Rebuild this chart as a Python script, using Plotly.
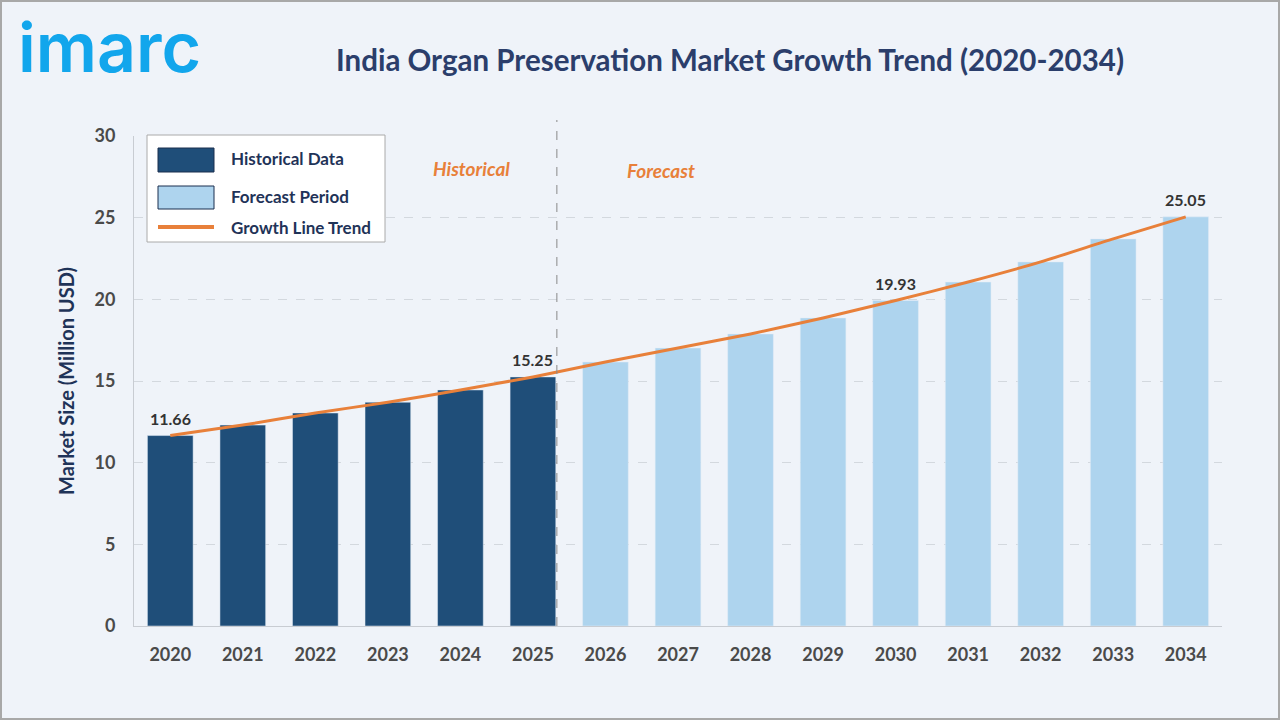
import plotly.graph_objects as go

# data
years = [str(y) for y in range(2020, 2035)]
hist_years = years[:6]
hist_values = [11.66, 12.30, 13.04, 13.70, 14.45, 15.25]
fcst_years = years[6:]
fcst_values = [16.16, 17.02, 17.88, 18.86, 19.93, 21.06, 22.29, 23.70, 25.05]
label_years = ["2020", "2025", "2030", "2034"]

all_values = hist_values + fcst_values
label_values = [all_values[years.index(y)] for y in label_years]

NAVY = "#1F4E79"
LIGHT = "#AED4EE"
ORANGE = "#E8803A"
FONT = "Lato"

# pixel -> paper helpers (plot area 134..1222 x, 136..626 y)
L, R, T, B = 134, 1222, 136, 626
def px(x):
    return (x - L) / (R - L)
def py(y):
    return (B - y) / (B - T)

fig = go.Figure()

fig.add_trace(go.Bar(x=hist_years, y=hist_values, marker_color=NAVY,
                     width=0.63, name="Historical Data"))
fig.add_trace(go.Bar(x=fcst_years, y=fcst_values, marker_color=LIGHT,
                     width=0.63, name="Forecast Period"))
fig.add_trace(go.Scatter(x=years, y=all_values, mode="lines",
                         line=dict(color=ORANGE, width=3, shape="spline", smoothing=0.6),
                         name="Growth Line Trend"))

shapes = []
# outer frame
shapes.append(dict(type="rect", xref="paper", yref="paper",
                   x0=px(1), x1=px(1279), y0=py(719), y1=py(1),
                   line=dict(color="#A8A8A8", width=2), fillcolor="rgba(0,0,0,0)", layer="below"))
# forecast divider
shapes.append(dict(type="line", xref="x", yref="paper", x0=5.33, x1=5.33,
                   y0=0, y1=py(120), line=dict(color="#888888", width=1, dash="dash")))
# manual legend
shapes.append(dict(type="rect", xref="paper", yref="paper",
                   x0=px(147), x1=px(385), y0=py(242), y1=py(135),
                   line=dict(color="#AAAAAA", width=1), fillcolor="white"))
shapes.append(dict(type="rect", xref="paper", yref="paper",
                   x0=px(158), x1=px(214), y0=py(172), y1=py(148),
                   line=dict(color="#1A2F4F", width=1), fillcolor=NAVY))
shapes.append(dict(type="rect", xref="paper", yref="paper",
                   x0=px(158), x1=px(214), y0=py(209), y1=py(186),
                   line=dict(color="#1A2F4F", width=1), fillcolor=LIGHT))
shapes.append(dict(type="line", xref="paper", yref="paper",
                   x0=px(158), x1=px(214), y0=py(227), y1=py(227),
                   line=dict(color=ORANGE, width=4)))

annotations = []
for yr, v in zip(label_years, label_values):
    annotations.append(dict(x=years.index(yr), y=v, xref="x", yref="y",
                            text=f"{v:.2f}", showarrow=False, yshift=17,
                            xanchor="center", yanchor="middle",
                            font=dict(family=FONT, size=16, color="#333333", weight="bold")))
for txt, yy in [("Historical Data", 158), ("Forecast Period", 196), ("Growth Line Trend", 227)]:
    annotations.append(dict(text=txt, xref="paper", yref="paper", x=px(229), y=py(yy),
                            xanchor="left", yanchor="middle", showarrow=False,
                            font=dict(family=FONT, size=17, color="#1F3358", weight="bold")))
annotations.append(dict(text="<i>Historical</i>", xref="paper", yref="paper", x=px(471), y=py(168),
                        xanchor="center", yanchor="middle", showarrow=False,
                        font=dict(family=FONT, size=19, color=ORANGE, weight="bold")))
annotations.append(dict(text="<i>Forecast</i>", xref="paper", yref="paper", x=px(661), y=py(170),
                        xanchor="center", yanchor="middle", showarrow=False,
                        font=dict(family=FONT, size=19, color=ORANGE, weight="bold")))
annotations.append(dict(text="India Organ Preservation Market Growth Trend (2020-2034)",
                        xref="paper", yref="paper", x=px(730), y=py(60),
                        xanchor="center", yanchor="middle", showarrow=False,
                        font=dict(family=FONT, size=29.5, color="#2B3E6B", weight="bold")))
annotations.append(dict(text="imarc", xref="paper", yref="paper", x=px(16), y=py(47),
                        xanchor="left", yanchor="middle", showarrow=False,
                        font=dict(family="Inter", size=68, color="#12A6EC", weight=600)))

fig.update_layout(
    width=1280, height=720,
    margin=dict(l=L, r=1280 - R, t=T, b=720 - B),
    paper_bgcolor="#EFF3F9", plot_bgcolor="#EFF3F9",
    showlegend=False, bargap=0.37,
    shapes=shapes, annotations=annotations,
    font=dict(family=FONT),
)
fig.update_xaxes(type="category", showgrid=False, showline=True, linecolor="#C8CCD2", ticks="",
                 tickfont=dict(family=FONT, size=18, color="#4A4A4A", weight="bold"),
                 ticklabelstandoff=12, range=[-0.5, 14.5])
fig.update_yaxes(range=[0, 30], dtick=5, showgrid=True, gridcolor="#D3D8DE",
                 griddash="dash", zeroline=False, showline=True, linecolor="#C8CCD2",
                 tickfont=dict(family=FONT, size=18, color="#4A4A4A", weight="bold"),
                 ticklabelstandoff=14,
                 title=dict(text="Market Size (Million USD)", standoff=14,
                            font=dict(family=FONT, size=20, color="#1F3358", weight="bold")))

fig.write_html("out.html", config={"displayModeBar": False},
               post_script="document.body.style.margin='0';")
